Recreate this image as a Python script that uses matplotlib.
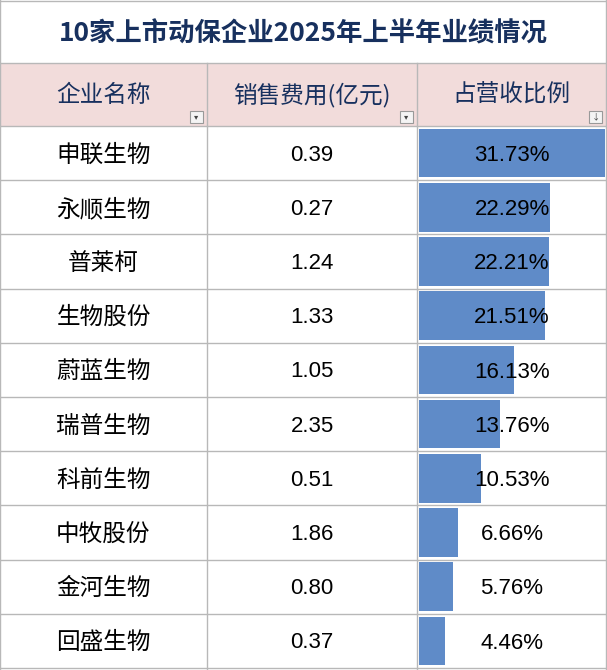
import matplotlib
matplotlib.use("Agg")
import matplotlib.pyplot as plt
from matplotlib.patches import Rectangle

plt.rcParams['font.family'] = ['Noto Sans CJK SC', 'DejaVu Sans']

title = "10家上市动保企业2025年上半年业绩情况"
headers = ["企业名称", "销售费用(亿元)", "占营收比例"]
companies = ["申联生物", "永顺生物", "普莱柯", "生物股份", "蔚蓝生物", "瑞普生物", "科前生物", "中牧股份", "金河生物", "回盛生物"]
sales_cost = [0.39, 0.27, 1.24, 1.33, 1.05, 2.35, 0.51, 1.86, 0.80, 0.37]
ratio = [31.73, 22.29, 22.21, 21.51, 16.13, 13.76, 10.53, 6.66, 5.76, 4.46]

W, H = 607, 670
fig = plt.figure(figsize=(W/100, H/100), dpi=100)
ax = fig.add_axes([0, 0, 1, 1])
ax.set_xlim(0, W); ax.set_ylim(H, 0); ax.axis('off')

cols = [0, 207, 417, 606]
title_bot, head_bot = 63, 126
row_h = (H - 2 - head_bot) / len(companies)
navy = "#17305e"
grid = "#b8b8b8"
numfont = ['Liberation Sans', 'DejaVu Sans']

ax.text(W/2, 34, title, ha='center', va='center', fontsize=19, fontweight='bold', color=navy)
ax.add_patch(Rectangle((0, title_bot), W, head_bot-title_bot, facecolor="#f2dcdb", edgecolor='none'))
for i, h in enumerate(headers):
    ax.text((cols[i]+cols[i+1])/2, (title_bot+head_bot)/2 + 1, h, ha='center', va='center',
            fontsize=17, color=navy, fontweight='medium')
    bx = cols[i+1]-17
    ax.add_patch(Rectangle((bx, head_bot-15), 13, 12, facecolor='#f4f4f4', edgecolor='#999999', lw=0.8))
    ax.text(bx+6.5, head_bot-9, "↓" if i == 2 else "▾", ha='center', va='center', fontsize=6, color='#444')

ax.plot([0, W], [title_bot, title_bot], color=grid, lw=1)
ax.plot([0, W], [head_bot, head_bot], color=grid, lw=1)
for r in range(1, len(companies)+1):
    y = head_bot + r*row_h
    ax.plot([0, W], [y, y], color=grid, lw=1)
for x in cols:
    ax.plot([x, x], [title_bot if x not in (0, cols[-1]) else 0, H], color=grid, lw=1)
ax.plot([0, W], [1, 1], color=grid, lw=1)

bax = fig.add_axes([(cols[2]+2)/W, 2/H, (cols[3]-cols[2]-3)/W, (H-2-head_bot)/H])
n = len(companies)
bax.barh(range(n), ratio, height=0.9, color="#5f8bc8")
bax.set_xlim(0, max(ratio)); bax.set_ylim(n-0.5, -0.5); bax.axis('off')
bax.patch.set_alpha(0)

for r in range(n):
    yc = head_bot + (r+0.5)*row_h + 2
    ax.text((cols[0]+cols[1])/2, yc, companies[r], ha='center', va='center', fontsize=17,
            color='black', fontweight='medium')
    ax.text((cols[1]+cols[2])/2, yc, f"{sales_cost[r]:.2f}", ha='center', va='center',
            fontsize=16, color='black', family=numfont)
    bax.text(max(ratio)/2, r + 0.04, f"{ratio[r]:.2f}%", ha='center', va='center',
             fontsize=16, color='black', family=numfont)

fig.savefig("out.png", dpi=100)
